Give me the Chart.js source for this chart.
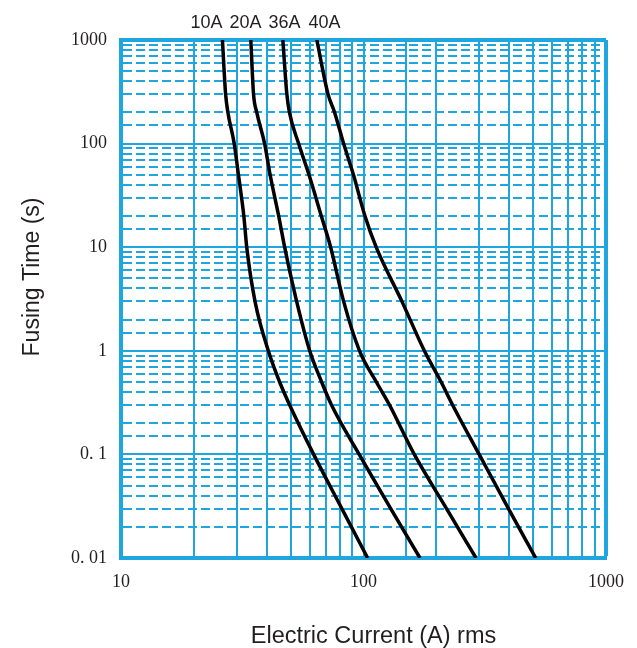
<!DOCTYPE html>
<html>
<head>
<meta charset="utf-8">
<script src="https://cdn.jsdelivr.net/npm/chart.js@4/dist/chart.umd.min.js"></script>
<style>
  html, body { margin: 0; padding: 0; background: #ffffff; }
  #wrap { width: 637px; height: 648px; position: relative; }
</style>
</head>
<body>
<div id="wrap"><canvas id="c" width="637" height="648"></canvas></div>
<script>
// ---- data ----
const seriesNames = ['10A', '20A', '36A', '40A'];
const fuseTime = [1000, 300, 200, 100, 50, 20, 10, 3, 1, 0.5, 0.3, 0.1, 0.03, 0.01];
const current10A = [26.2, 27.0, 27.6, 29.3, 30.5, 32.1, 33.0, 35.7, 40.5, 45.1, 49.6, 62.3, 81.4, 104];
const current20A = [34.3, 35.2, 36.3, 39.1, 41.2, 44.7, 47.3, 53.0, 60.0, 67.2, 73.8, 96.0, 129.5, 171];
const current36A = [46.5, 48.3, 49.5, 54.0, 59.6, 67.0, 73.2, 82.8, 96.3, 113, 128, 162, 220, 291];
const current40A = [64.2, 71.4, 76.0, 82.8, 90.9, 101.4, 112.8, 144.0, 178.2, 209, 233, 300, 396, 513];
const xTickValues = [10, 100, 1000];
const xTickLabels = ['10', '100', '1000'];
const yTickValues = [0.01, 0.1, 1, 10, 100, 1000];
const yTickLabels = ['0. 01', '0. 1', '1', '10', '100', '1000'];
const xTitle = 'Electric Current (A) rms';
const yTitle = 'Fusing Time (s)';

const seriesCurrents = [current10A, current20A, current36A, current40A];

const BLUE = '#1fa6df';

function matchIndex(values, v) {
  for (let i = 0; i < values.length; i++) {
    if (Math.abs(Math.log10(values[i]) - Math.log10(v)) < 1e-6) return i;
  }
  return -1;
}
function tickVal(ctx) { return ctx && ctx.tick ? ctx.tick.value : null; }

const datasets = seriesNames.map((name, s) => ({
  label: name,
  data: fuseTime.map((t, i) => ({ x: seriesCurrents[s][i], y: t })),
  borderColor: '#000000',
  borderWidth: 3.5,
  pointRadius: 0,
  showLine: true,
  fill: false,
  cubicInterpolationMode: 'monotone'
}));

const annotate = {
  id: 'annotate',
  afterDraw(chart) {
    const ctx = chart.ctx;
    ctx.save();
    ctx.fillStyle = '#231f20';
    ctx.font = '18px "Liberation Sans", Arial, sans-serif';
    ctx.textAlign = 'center';
    ctx.textBaseline = 'alphabetic';
    const labelCenters = [206.5, 245.5, 284.5, 324.5];
    seriesNames.forEach((n, i) => ctx.fillText(n, labelCenters[i], 28));
    ctx.font = '23.5px "Liberation Sans", Arial, sans-serif';
    ctx.fillText(xTitle, 373.5, 643);
    ctx.translate(39, 277);
    ctx.rotate(-Math.PI / 2);
    ctx.font = '23px "Liberation Sans", Arial, sans-serif';
    ctx.fillText(yTitle, 0, 0);
    ctx.restore();
  }
};

new Chart(document.getElementById('c'), {
  type: 'scatter',
  data: { datasets },
  plugins: [annotate],
  options: {
    responsive: false,
    animation: false,
    devicePixelRatio: 1,
    layout: { padding: { top: 40, right: 30, left: 0, bottom: 0 } },
    plugins: { legend: { display: false }, tooltip: { enabled: false } },
    scales: {
      x: {
        type: 'logarithmic',
        min: 10, max: 1000,
        afterFit(scale) { scale.height = 90; },
        border: { display: true, color: BLUE, width: 4 },
        grid: {
          drawTicks: false,
          color: BLUE,
          lineWidth(ctx) {
            const v = tickVal(ctx);
            if (v === null) return 2;
            if (Math.abs(v - 1000) < 1e-6) return 4;
            return 2;
          }
        },
        ticks: {
          autoSkip: false,
          maxRotation: 0,
          padding: 13,
          color: '#231f20',
          font: { family: '"Liberation Serif", "Times New Roman", serif', size: 18 },
          callback(value) {
            const i = matchIndex(xTickValues, value);
            return i >= 0 ? xTickLabels[i] : '';
          }
        }
      },
      y: {
        type: 'logarithmic',
        min: 0.01, max: 1000,
        afterFit(scale) { scale.width = 121; },
        border: {
          display: true, color: BLUE, width: 4,
          dash(ctx) {
            const v = tickVal(ctx);
            if (v === null) return [];
            return matchIndex(yTickValues, v) >= 0 ? [] : [9, 4];
          }
        },
        grid: {
          drawTicks: false,
          color: BLUE,
          lineWidth(ctx) {
            const v = tickVal(ctx);
            if (v === null) return 2;
            if (Math.abs(Math.log10(v) - 3) < 1e-6) return 4;
            return 2;
          }
        },
        ticks: {
          autoSkip: false,
          padding: 14,
          color: '#231f20',
          font: { family: '"Liberation Serif", "Times New Roman", serif', size: 18 },
          callback(value) {
            const i = matchIndex(yTickValues, value);
            return i >= 0 ? yTickLabels[i] : '';
          }
        }
      }
    }
  }
});
</script>
</body>
</html>
